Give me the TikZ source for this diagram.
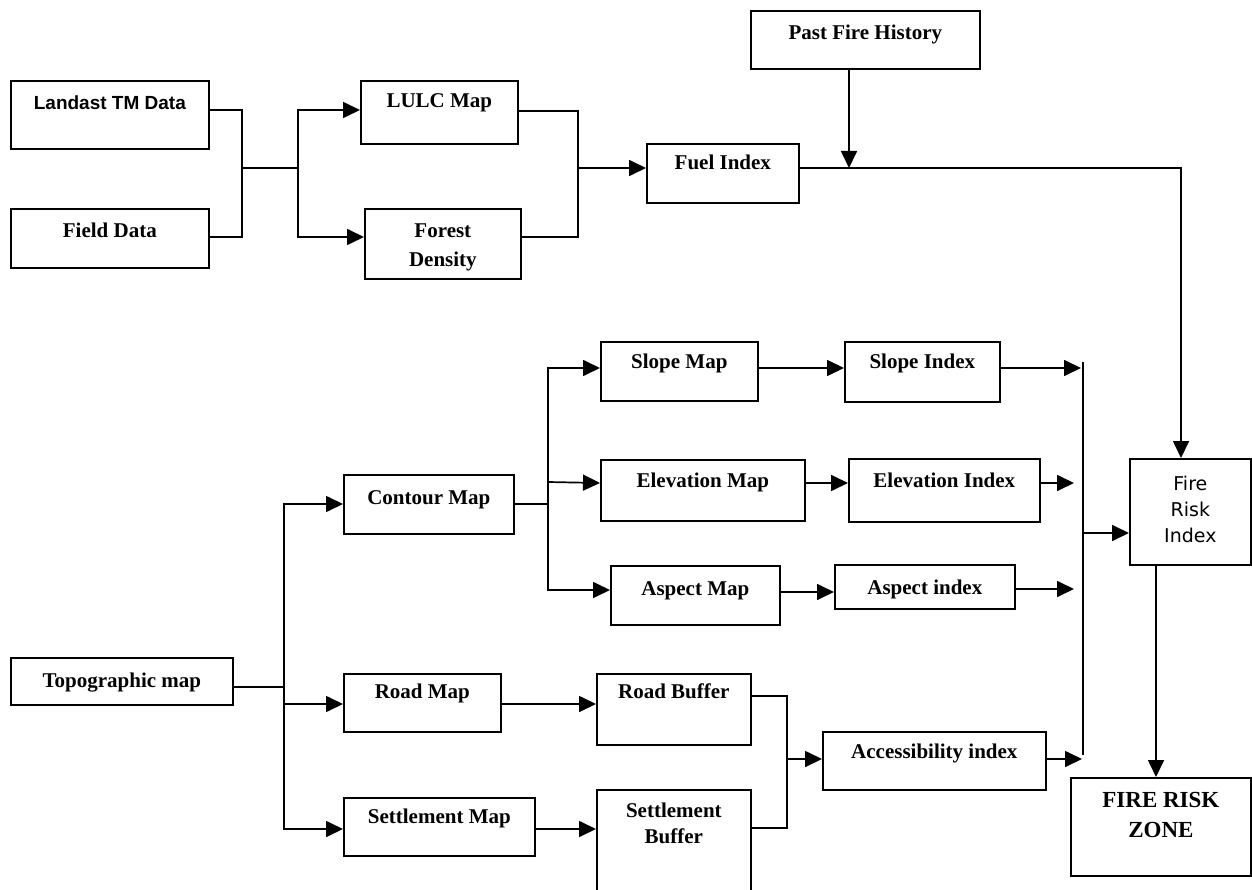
\documentclass[tikz,border=0pt]{standalone}
\usepackage{fontspec}
\setmainfont{Liberation Serif}
\newfontfamily\sfbold{Liberation Sans}
\newfontfamily\frfont{DejaVu Sans}
\usetikzlibrary{arrows.meta}
\newcommand{\bx}[5]{\begin{minipage}[t][#2][t]{#1}\fontsize{21}{#4}\selectfont\bfseries\centering
\vspace*{\dimexpr #3-\ht\strutbox\relax}\strut #5\par\end{minipage}}
\tikzset{
  boxn/.style={draw, line width=1.7pt, inner sep=0pt, anchor=north west},
  conn/.style={line width=1.7pt},
  arr/.style={line width=1.7pt, -{Triangle[length=17pt,width=16pt]}}
}
\begin{document}
\begin{tikzpicture}[x=1pt,y=-1pt]
\useasboundingbox (0,0) rectangle (1252,890);
% boxes
\node[boxn] (pfh) at (750,10) {\bx{229pt}{58pt}{29pt}{24pt}{Past Fire History}};
\node[boxn] (land) at (10,80) {\bx{198pt}{68pt}{29pt}{24pt}{\sfbold\bfseries\fontsize{19}{24}\selectfont Landast TM Data}};
\node[boxn] (field) at (10,208) {\bx{198pt}{59pt}{29pt}{24pt}{Field Data}};
\node[boxn] (lulc) at (360,80) {\bx{157pt}{63pt}{27pt}{24pt}{LULC Map}};
\node[boxn] (forest) at (364,208) {\bx{156pt}{70pt}{29pt}{29pt}{Forest\\Density}};
\node[boxn] (fuel) at (646,143) {\bx{152pt}{59pt}{26pt}{24pt}{Fuel Index}};
\node[boxn] (slopem) at (600,341) {\bx{157pt}{59pt}{27pt}{24pt}{Slope Map}};
\node[boxn] (slopei) at (844,341) {\bx{155pt}{60pt}{27pt}{24pt}{Slope Index}};
\node[boxn] (contour) at (343,474) {\bx{170pt}{59pt}{30pt}{24pt}{Contour Map}};
\node[boxn] (elevm) at (600,459) {\bx{204pt}{61pt}{28pt}{24pt}{Elevation Map}};
\node[boxn] (elevi) at (848,458) {\bx{191pt}{63pt}{29pt}{24pt}{Elevation Index}};
\node[boxn] (fri) at (1129,458) {\bx{121pt}{106pt}{32pt}{26pt}{\frfont\mdseries\fontsize{19}{26}\selectfont Fire\\Risk\\Index}};
\node[boxn] (aspm) at (610,565) {\bx{169pt}{59pt}{30pt}{24pt}{Aspect Map}};
\node[boxn] (aspi) at (834,564) {\bx{180pt}{44pt}{30pt}{24pt}{Aspect index}};
\node[boxn] (topo) at (10,657) {\bx{222pt}{47pt}{30pt}{24pt}{Topographic map}};
\node[boxn] (roadm) at (343,673) {\bx{157pt}{58pt}{25pt}{24pt}{Road Map}};
\node[boxn] (roadb) at (596,673) {\bx{154pt}{71pt}{25pt}{24pt}{Road Buffer}};
\node[boxn] (access) at (822,731) {\bx{223pt}{58pt}{27pt}{24pt}{Accessibility index}};
\node[boxn] (frz) at (1070,777) {\bx{180pt}{98pt}{30pt}{30pt}{\fontsize{23}{30}\selectfont FIRE RISK\\ZONE}};
\node[boxn] (settm) at (343,797) {\bx{191pt}{58pt}{26pt}{24pt}{Settlement Map}};
\node[boxn] (settb) at (596,789) {\bx{154pt}{110pt}{28pt}{26pt}{Settlement\\Buffer}};
% junctions
\coordinate (J1) at (242,168);
\coordinate (J2) at (298,168);
\coordinate (J3) at (578,168);
\coordinate (J4) at (849,168);
\coordinate (J5) at (1181,168);
\coordinate (T) at (284,687);
\coordinate (C) at (548,504);
\coordinate (Ktop) at (1083,362);
\coordinate (Kbot) at (1083,755);
\coordinate (k1) at (1081,368);
\coordinate (k2) at (1074,483);
\coordinate (k3) at (1074,589);
\coordinate (k4) at (1082,759);
\coordinate (k5) at (1084,533);
\coordinate (R) at (787,759);
% top part
\draw[conn] (land.east |- 0,110) -| (J1) |- (field.east |- 0,237);
\draw[conn] (J1) -- (J2);
\draw[arr] (J2) |- (lulc.west |- 0,110);
\draw[arr] (J2) |- (forest.west |- 0,237);
\draw[conn] (lulc.east |- 0,111) -| (J3) |- (forest.east |- 0,237);
\draw[arr] (J3) -- (fuel.west |- J3);
\draw[arr] (pfh.south -| J4) -- (J4);
\draw[arr] (fuel.east |- J5) -- (J5) -- (J5 |- fri.north);
% topographic part
\draw[conn] (topo.east |- T) -- (T);
\draw[arr] (T) |- (contour.west |- C);
\draw[arr] (T) |- (roadm.west |- 0,704);
\draw[arr] (T) |- (settm.west |- 0,829);
\draw[conn] (contour.east |- C) -- (C);
\draw[arr] (C) |- (slopem.west |- 0,368);
\draw[arr] (C |- 0,482) -- (elevm.west |- 0,483);
\draw[arr] (C) |- (aspm.west |- 0,590);
\draw[arr] (slopem.east |- 0,368) -- (slopei.west |- 0,368);
\draw[arr] (elevm.east |- 0,483) -- (elevi.west |- 0,483);
\draw[arr] (aspm.east |- 0,592) -- (aspi.west |- 0,592);
\draw[conn] (Ktop) -- (Kbot);
\draw[arr] (slopei.east |- k1) -- (k1);
\draw[arr] (elevi.east |- k2) -- (k2);
\draw[arr] (aspi.east |- k3) -- (k3);
\draw[arr] (access.east |- k4) -- (k4);
\draw[arr] (k5) -- (fri.west |- k5);
\draw[arr] (fri.south -| 1156,0) -- (frz.north -| 1156,0);
\draw[arr] (roadm.east |- 0,704) -- (roadb.west |- 0,704);
\draw[arr] (settm.east |- 0,829) -- (settb.west |- 0,829);
\draw[conn] (roadb.east |- 0,696) -| (R) |- (settb.east |- 0,828);
\draw[arr] (R) -- (access.west |- R);
\end{tikzpicture}
\end{document}
